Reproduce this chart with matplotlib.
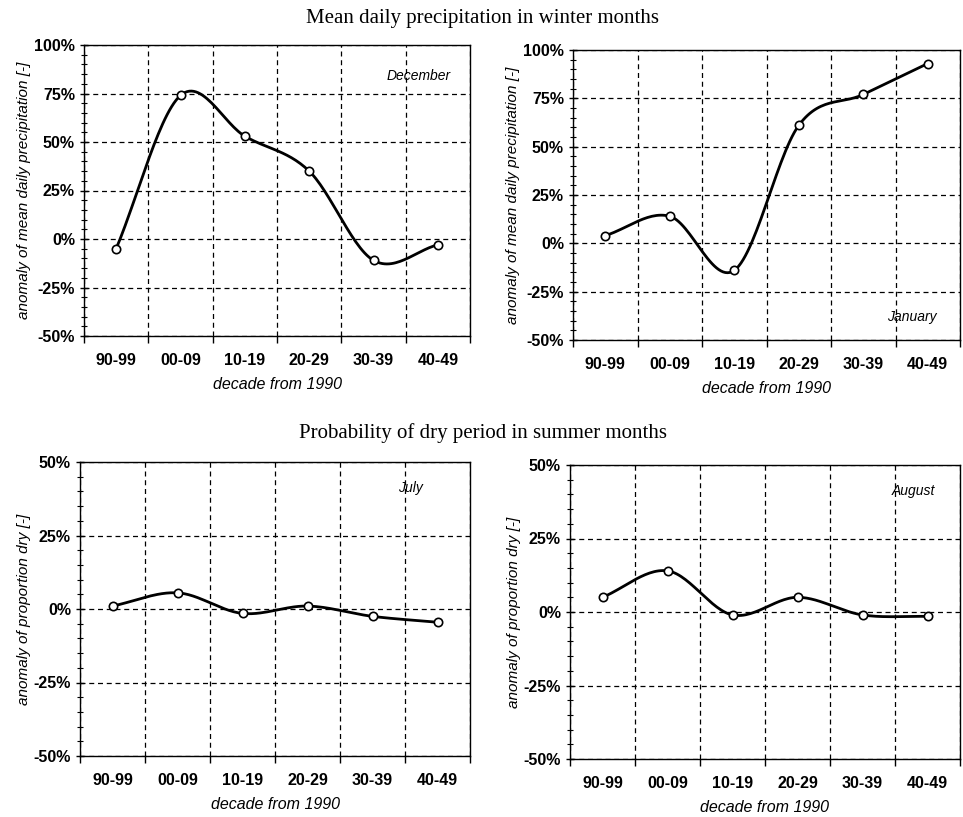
import numpy as np
import matplotlib
matplotlib.use("Agg")
import matplotlib.pyplot as plt
from matplotlib.ticker import FixedLocator, MultipleLocator, PercentFormatter

plt.rcParams["axes.unicode_minus"] = False

decades = ["90-99", "00-09", "10-19", "20-29", "30-39", "40-49"]
december = [-5, 74, 53, 35, -11, -3]
january = [4, 14, -14, 61, 77, 93]
july = [1, 5.5, -1.5, 1, -2.5, -4.5]
august = [5, 14, -1, 5, -1, -1.5]

title_top = "Mean daily precipitation in winter months"
title_bottom = "Probability of dry period in summer months"
ylabel_top = "anomaly of mean daily precipitation [-]"
ylabel_bottom = "anomaly of proportion dry [-]"
xlabel = "decade from 1990"


def smooth(x, y, n=30):
    # Catmull-Rom style smoothing (like spreadsheet "smoothed line")
    x = np.asarray(x, float)
    y = np.asarray(y, float)
    px = np.concatenate([[2 * x[0] - x[1]], x, [2 * x[-1] - x[-2]]])
    py = np.concatenate([[2 * y[0] - y[1]], y, [2 * y[-1] - y[-2]]])
    xs, ys = [], []
    t = np.linspace(0, 1, n)
    for i in range(1, len(px) - 2):
        for arr, out in ((px, xs), (py, ys)):
            p0, p1, p2, p3 = arr[i - 1], arr[i], arr[i + 1], arr[i + 2]
            m1 = (p2 - p0) / 2
            m2 = (p3 - p1) / 2
            h00 = 2 * t**3 - 3 * t**2 + 1
            h10 = t**3 - 2 * t**2 + t
            h01 = -2 * t**3 + 3 * t**2
            h11 = t**3 - t**2
            out.extend(h00 * p1 + h10 * m1 + h01 * p2 + h11 * m2)
    return np.array(xs), np.array(ys)


fig = plt.figure(figsize=(9.63, 8.17), dpi=100)
W, H = 963, 817


def make_ax(l, r, t, b):
    return fig.add_axes([l / W, 1 - b / H, (r - l) / W, (b - t) / H])


panels = [
    (make_ax(84, 470, 45, 336), december, "December", (0.95, 0.895), (-50, 100), ylabel_top),
    (make_ax(573, 960, 50, 340), january, "January", (0.94, 0.08), (-50, 100), ylabel_top),
    (make_ax(80, 470, 462, 756), july, "July", (0.88, 0.91), (-50, 50), ylabel_bottom),
    (make_ax(570, 960, 465, 759), august, "August", (0.935, 0.91), (-50, 50), ylabel_bottom),
]

tickfont = dict(family="Liberation Sans", weight="bold", size=11.5)

for ax, vals, month, mpos, ylim, ylab in panels:
    x = np.arange(len(decades)) + 0.5
    sx, sy = smooth(x, vals)
    ax.plot(sx, sy, color="black", lw=2, zorder=3)
    ax.plot(x, vals, "o", ms=6, mfc="white", mec="black", mew=1.2, zorder=4)
    ax.set_xlim(0, 6)
    ax.set_ylim(*ylim)
    ax.xaxis.set_major_locator(FixedLocator(range(7)))
    ax.xaxis.set_minor_locator(FixedLocator(x))
    ax.set_xticklabels([])
    ax.set_xticklabels(decades, minor=True, fontdict=tickfont)
    ax.tick_params(axis="x", which="major", direction="out", length=5, width=1)
    ax.tick_params(axis="x", which="minor", length=0, pad=12)
    ax.yaxis.set_major_locator(MultipleLocator(25))
    ax.yaxis.set_minor_locator(MultipleLocator(5))
    ax.yaxis.set_major_formatter(PercentFormatter(decimals=0))
    for lab in ax.get_yticklabels():
        lab.set_fontfamily("Liberation Sans")
        lab.set_fontweight("bold")
        lab.set_fontsize(11.5)
    ax.tick_params(axis="y", which="major", direction="inout", length=6, width=1)
    ax.tick_params(axis="y", which="minor", direction="inout", length=4, width=0.8)
    ax.grid(True, which="major", color="black", linestyle=(0, (4, 3)), lw=0.9)
    for s in ax.spines.values():
        s.set_color("black")
        s.set_linewidth(1.0)
    ax.set_xlabel(xlabel, fontfamily="Liberation Sans", style="italic", fontsize=11.5, labelpad=7)
    ax.set_ylabel(ylab, fontfamily="Liberation Sans", style="italic", fontsize=11, labelpad=2)
    ax.text(mpos[0], mpos[1], month, transform=ax.transAxes, ha="right", va="center",
            fontfamily="Liberation Sans", style="italic", fontsize=10)

fig.text(483 / W, 1 - 18 / H, title_top, ha="center", va="center",
         fontfamily="Liberation Serif", fontsize=15)
fig.text(483 / W, 1 - 433 / H, title_bottom, ha="center", va="center",
         fontfamily="Liberation Serif", fontsize=15)

fig.savefig("out.png", dpi=100, facecolor="white")
